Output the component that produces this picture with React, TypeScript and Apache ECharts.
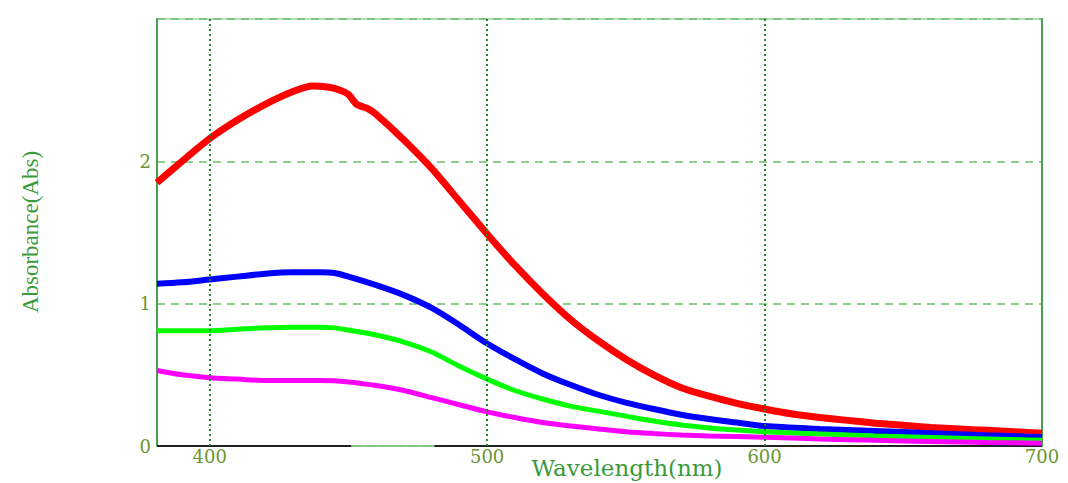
import React, { useEffect, useRef } from "react";
import * as echarts from "echarts";

const redX = [381, 390, 400, 410, 420, 430, 437, 443, 447, 450, 453, 457, 460, 470, 480, 490, 500, 510, 520, 530, 540, 550, 560, 570, 580, 590, 600, 610, 620, 630, 640, 650, 660, 670, 680, 690, 700];
const redY = [1.85, 2.0, 2.16, 2.29, 2.4, 2.49, 2.53, 2.52, 2.5, 2.47, 2.4, 2.37, 2.33, 2.15, 1.95, 1.72, 1.49, 1.27, 1.07, 0.89, 0.74, 0.61, 0.5, 0.41, 0.35, 0.3, 0.26, 0.225, 0.2, 0.18, 0.16, 0.145, 0.13, 0.12, 0.11, 0.1, 0.09];

const blueX = [381, 390, 400, 410, 420, 430, 440, 445, 450, 460, 470, 480, 490, 500, 510, 520, 530, 540, 550, 560, 570, 580, 590, 600, 620, 640, 660, 680, 700];
const blueY = [1.14, 1.15, 1.17, 1.19, 1.21, 1.22, 1.22, 1.215, 1.19, 1.13, 1.06, 0.97, 0.85, 0.72, 0.61, 0.51, 0.43, 0.36, 0.305, 0.26, 0.22, 0.19, 0.165, 0.14, 0.12, 0.105, 0.09, 0.075, 0.063];

const greenX = [381, 390, 400, 410, 420, 430, 440, 445, 450, 460, 470, 480, 490, 500, 510, 520, 530, 540, 550, 560, 570, 580, 590, 600, 620, 640, 660, 680, 700];
const greenY = [0.81, 0.81, 0.81, 0.82, 0.83, 0.835, 0.835, 0.83, 0.815, 0.78, 0.73, 0.66, 0.56, 0.47, 0.39, 0.33, 0.28, 0.245, 0.21, 0.175, 0.148, 0.127, 0.112, 0.1, 0.085, 0.07, 0.06, 0.05, 0.04];

const magentaX = [381, 390, 400, 410, 420, 430, 440, 450, 460, 470, 480, 490, 500, 510, 520, 530, 540, 550, 560, 570, 580, 600, 620, 640, 660, 680, 700];
const magentaY = [0.53, 0.5, 0.48, 0.47, 0.46, 0.46, 0.46, 0.45, 0.425, 0.39, 0.34, 0.29, 0.24, 0.2, 0.165, 0.14, 0.12, 0.1, 0.087, 0.077, 0.07, 0.062, 0.05, 0.04, 0.032, 0.025, 0.02];

const baselineX = [381, 451, 465, 481, 700];
const baselineY: (number | string)[] = [0, 0, "-", 0, 0];

const xTicks = [400, 500, 600, 700];
const vGridLines = [400, 500, 600];

const zip = (xs: number[], ys: (number | string)[]) => xs.map((x, i) => [x, ys[i]]);

export default function App() {
  const ref = useRef<HTMLDivElement>(null);
  useEffect(() => {
    if (!ref.current) return;
    const chart = echarts.init(ref.current, null, { renderer: "svg" });
    const labelColor = "#6a9632";
    const titleColor = "#3a9a3a";
    chart.setOption({
      animation: false,
      grid: {
        left: 157,
        right: 26,
        top: 19,
        bottom: 37,
        show: true,
        borderColor: "#9ad49a",
        borderWidth: 1.5,
      },
      xAxis: {
        type: "value",
        min: 381,
        max: 700,
        axisLine: { show: true, lineStyle: { color: "#7cc47c", width: 1.5 } },
        axisTick: { show: false, customValues: xTicks },
        axisLabel: {
          customValues: xTicks,
          color: labelColor,
          fontFamily: "DejaVu Serif",
          fontSize: 18,
          lineHeight: 15,
          margin: 3,
        },
        splitLine: { show: false },
      },
      yAxis: [
        {
          type: "value",
          min: 0,
          max: 3,
          interval: 1,
          axisLine: { show: true, lineStyle: { color: "#4aa04a", width: 2 } },
          axisTick: { show: false },
          axisLabel: {
            color: labelColor,
            fontFamily: "DejaVu Serif",
            fontSize: 18,
            margin: 6,
            padding: [0, 0, 8, 0],
            formatter: (v: number) => (v === 3 ? "" : String(v)),
          },
          splitLine: {
            show: true,
            lineStyle: { color: "#6cbf6c", type: [8, 6], width: 1.5 },
          },
        },
        {
          type: "value",
          position: "right",
          min: 0,
          max: 3,
          interval: 1,
          axisLine: { show: true, lineStyle: { color: "#4aa04a", width: 2 } },
          axisTick: { show: false },
          axisLabel: { show: false },
          splitLine: { show: false },
        },
      ],
      graphic: [
        {
          type: "text",
          x: 30,
          y: 232,
          rotation: Math.PI / 2,
          style: {
            text: "Absorbance(Abs)",
            fill: titleColor,
            font: '23px "Liberation Serif"',
            align: "center",
            verticalAlign: "middle",
          },
        },
        {
          type: "text",
          x: 627,
          y: 468,
          style: {
            text: "Wavelength(nm)",
            fill: titleColor,
            font: '23px "DejaVu Serif"',
            align: "center",
            verticalAlign: "middle",
          },
        },
      ],
      series: [
        {
          name: "baseline",
          type: "line",
          data: zip(baselineX, baselineY),
          showSymbol: false,
          lineStyle: { color: "#222", width: 2 },
          markLine: {
            silent: true,
            symbol: ["none", "none"],
            label: { show: false },
            lineStyle: { color: "#1f8a1f", type: [2, 3], width: 2 },
            data: vGridLines.map((v) => ({ xAxis: v })),
          },
        },
        {
          name: "red",
          type: "line",
          data: zip(redX, redY),
          showSymbol: false,
          smooth: 0.2,
          lineStyle: { color: "#ff0000", width: 7 },
        },
        {
          name: "blue",
          type: "line",
          data: zip(blueX, blueY),
          showSymbol: false,
          smooth: 0.3,
          lineStyle: { color: "#0000ff", width: 6 },
        },
        {
          name: "green",
          type: "line",
          data: zip(greenX, greenY),
          showSymbol: false,
          smooth: 0.3,
          lineStyle: { color: "#00ff00", width: 5 },
        },
        {
          name: "magenta",
          type: "line",
          data: zip(magentaX, magentaY),
          showSymbol: false,
          smooth: 0.3,
          lineStyle: { color: "#ff00ff", width: 5 },
        },
      ],
    });
    return () => chart.dispose();
  }, []);
  return (
    <div
      ref={ref}
      style={{ position: "absolute", left: 0, top: 0, width: 1068, height: 483 }}
    />
  );
}
